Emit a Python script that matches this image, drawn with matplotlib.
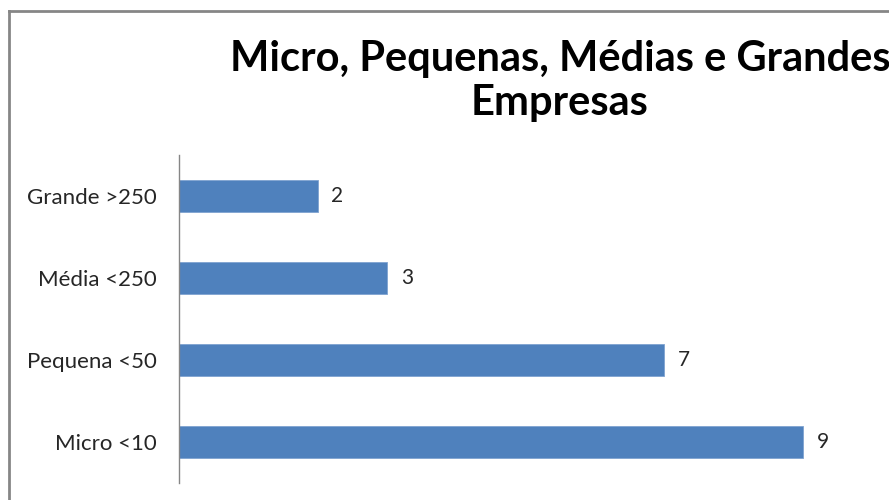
import matplotlib.pyplot as plt
from matplotlib.lines import Line2D

categories = ["Micro <10", "Pequena <50", "Média <250", "Grande >250"]
values = [9, 7, 3, 2]
title = "Micro, Pequenas, Médias e Grandes\nEmpresas"

plt.rcParams["font.family"] = ["Lato", "DejaVu Sans"]

fig = plt.figure(figsize=(8.89, 5.0), dpi=100)
ax = fig.add_axes([179 / 889, 17 / 500, 1 - 179 / 889, 328 / 500])

y = list(range(len(categories)))
ax.barh(y, values, height=0.4, color="#4F81BD", edgecolor="#7FA3D0", linewidth=0.6)

for yi, v in zip(y, values):
    ax.text(v + 0.2, yi, str(v), va="center", ha="left", fontsize=15, color="#262626")

ax.set_yticks(y)
ax.set_yticklabels(categories, fontsize=16, color="#262626")
ax.tick_params(axis="y", length=0, pad=16)
ax.set_xticks([])
ax.set_xlim(0, 710 / 69.3)
ax.set_ylim(-0.5, 3.5)

for side in ("top", "right", "bottom"):
    ax.spines[side].set_visible(False)
ax.spines["left"].set_color("#868686")
ax.spines["left"].set_linewidth(1)

fig.text(560 / 889, 1 - 81 / 500, title, ha="center", va="center",
         fontsize=30, fontweight="bold", color="black", linespacing=1.2)

# chart area frame (left and top edges visible)
fig.add_artist(Line2D([9 / 889, 9 / 889], [0, 1 - 11 / 500], transform=fig.transFigure,
                      color="#868686", linewidth=2))
fig.add_artist(Line2D([9 / 889, 1], [1 - 11 / 500, 1 - 11 / 500], transform=fig.transFigure,
                      color="#868686", linewidth=2))

fig.savefig("out.png", dpi=100)
